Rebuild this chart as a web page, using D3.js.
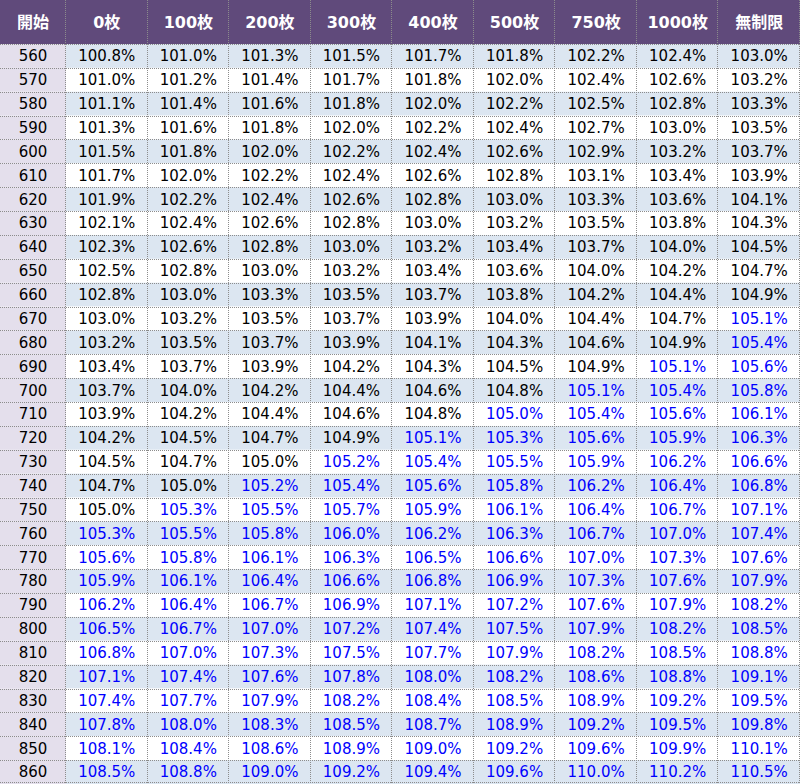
<!DOCTYPE html>
<html>
<head>
<meta charset="utf-8">
<script src="https://cdn.jsdelivr.net/npm/d3@7"></script>
<style>
  html, body { margin: 0; padding: 0; background: #fff; }
  svg { display: block; }
</style>
</head>
<body>
<div id="container"></div>
<script>
const width = 800;
const height = 784;
const headerHeight = 44;
const firstColWidth = 66;

// column headers
const cornerLabel = "開始";
const columns = ["0枚", "100枚", "200枚", "300枚", "400枚", "500枚", "750枚", "1000枚", "無制限"];

// row labels
const starts = [560, 570, 580, 590, 600, 610, 620, 630, 640, 650, 660, 670, 680, 690, 700, 710,
  720, 730, 740, 750, 760, 770, 780, 790, 800, 810, 820, 830, 840, 850, 860];

// payout rates (%), one array per row
const rates = [
  [100.8, 101.0, 101.3, 101.5, 101.7, 101.8, 102.2, 102.4, 103.0],
  [101.0, 101.2, 101.4, 101.7, 101.8, 102.0, 102.4, 102.6, 103.2],
  [101.1, 101.4, 101.6, 101.8, 102.0, 102.2, 102.5, 102.8, 103.3],
  [101.3, 101.6, 101.8, 102.0, 102.2, 102.4, 102.7, 103.0, 103.5],
  [101.5, 101.8, 102.0, 102.2, 102.4, 102.6, 102.9, 103.2, 103.7],
  [101.7, 102.0, 102.2, 102.4, 102.6, 102.8, 103.1, 103.4, 103.9],
  [101.9, 102.2, 102.4, 102.6, 102.8, 103.0, 103.3, 103.6, 104.1],
  [102.1, 102.4, 102.6, 102.8, 103.0, 103.2, 103.5, 103.8, 104.3],
  [102.3, 102.6, 102.8, 103.0, 103.2, 103.4, 103.7, 104.0, 104.5],
  [102.5, 102.8, 103.0, 103.2, 103.4, 103.6, 104.0, 104.2, 104.7],
  [102.8, 103.0, 103.3, 103.5, 103.7, 103.8, 104.2, 104.4, 104.9],
  [103.0, 103.2, 103.5, 103.7, 103.9, 104.0, 104.4, 104.7, 105.1],
  [103.2, 103.5, 103.7, 103.9, 104.1, 104.3, 104.6, 104.9, 105.4],
  [103.4, 103.7, 103.9, 104.2, 104.3, 104.5, 104.9, 105.1, 105.6],
  [103.7, 104.0, 104.2, 104.4, 104.6, 104.8, 105.1, 105.4, 105.8],
  [103.9, 104.2, 104.4, 104.6, 104.8, 105.0, 105.4, 105.6, 106.1],
  [104.2, 104.5, 104.7, 104.9, 105.1, 105.3, 105.6, 105.9, 106.3],
  [104.5, 104.7, 105.0, 105.2, 105.4, 105.5, 105.9, 106.2, 106.6],
  [104.7, 105.0, 105.2, 105.4, 105.6, 105.8, 106.2, 106.4, 106.8],
  [105.0, 105.3, 105.5, 105.7, 105.9, 106.1, 106.4, 106.7, 107.1],
  [105.3, 105.5, 105.8, 106.0, 106.2, 106.3, 106.7, 107.0, 107.4],
  [105.6, 105.8, 106.1, 106.3, 106.5, 106.6, 107.0, 107.3, 107.6],
  [105.9, 106.1, 106.4, 106.6, 106.8, 106.9, 107.3, 107.6, 107.9],
  [106.2, 106.4, 106.7, 106.9, 107.1, 107.2, 107.6, 107.9, 108.2],
  [106.5, 106.7, 107.0, 107.2, 107.4, 107.5, 107.9, 108.2, 108.5],
  [106.8, 107.0, 107.3, 107.5, 107.7, 107.9, 108.2, 108.5, 108.8],
  [107.1, 107.4, 107.6, 107.8, 108.0, 108.2, 108.6, 108.8, 109.1],
  [107.4, 107.7, 107.9, 108.2, 108.4, 108.5, 108.9, 109.2, 109.5],
  [107.8, 108.0, 108.3, 108.5, 108.7, 108.9, 109.2, 109.5, 109.8],
  [108.1, 108.4, 108.6, 108.9, 109.0, 109.2, 109.6, 109.9, 110.1],
  [108.5, 108.8, 109.0, 109.2, 109.4, 109.6, 110.0, 110.2, 110.5]
];

// start value from which each column is printed in blue
const blueFrom = [760, 750, 740, 730, 720, 710, 700, 690, 670];

const headerColor = "#604a7b";
const labelColor = "#e4dfec";
const stripeColor = "#dce6f1";
const borderColor = "#8c8c8c";
const fontFamily = "'DejaVu Sans', Verdana, 'Noto Sans CJK JP', sans-serif";

const x = d3.scaleBand()
  .domain(columns)
  .range([firstColWidth, width]);

const y = d3.scaleBand()
  .domain(starts)
  .range([headerHeight, height]);

const svg = d3.select("#container").append("svg")
  .attr("width", width)
  .attr("height", height)
  .attr("viewBox", [0, 0, width, height])
  .style("font-family", fontFamily);

// header
svg.append("rect")
  .attr("x", 0).attr("y", 0)
  .attr("width", width).attr("height", headerHeight)
  .attr("fill", headerColor);

svg.append("text")
  .attr("x", firstColWidth / 2)
  .attr("y", headerHeight / 2)
  .attr("dy", "0.36em")
  .attr("text-anchor", "middle")
  .attr("fill", "#fff")
  .attr("font-weight", "bold")
  .attr("font-size", 16)
  .text(cornerLabel);

svg.append("g")
  .selectAll("text")
  .data(columns)
  .join("text")
  .attr("x", d => x(d) + x.bandwidth() / 2)
  .attr("y", headerHeight / 2)
  .attr("dy", "0.36em")
  .attr("text-anchor", "middle")
  .attr("fill", "#fff")
  .attr("font-weight", "bold")
  .attr("font-size", 16)
  .text(d => d);

// body rows
const rows = svg.append("g")
  .selectAll("g")
  .data(starts.map((s, i) => ({start: s, i, values: rates[i]})))
  .join("g")
  .attr("transform", d => `translate(0,${y(d.start)})`);

rows.append("rect")
  .attr("x", 0)
  .attr("width", firstColWidth)
  .attr("height", y.bandwidth())
  .attr("fill", labelColor);

rows.append("rect")
  .attr("x", firstColWidth)
  .attr("width", width - firstColWidth)
  .attr("height", y.bandwidth())
  .attr("fill", d => d.i % 2 === 0 ? stripeColor : "#fff");

rows.append("text")
  .attr("x", firstColWidth / 2)
  .attr("y", y.bandwidth() / 2)
  .attr("dy", "0.36em")
  .attr("text-anchor", "middle")
  .attr("font-size", 15)
  .attr("fill", "#000")
  .text(d => d.start);

rows.selectAll("text.val")
  .data(d => d.values.map((v, j) => ({v, col: columns[j], blue: d.start >= blueFrom[j]})))
  .join("text")
  .attr("class", "val")
  .attr("x", d => x(d.col) + x.bandwidth() / 2)
  .attr("y", y.bandwidth() / 2)
  .attr("dy", "0.36em")
  .attr("text-anchor", "middle")
  .attr("font-size", 15)
  .attr("fill", d => d.blue ? "#0000ff" : "#000")
  .text(d => d.v.toFixed(1) + "%");

// dotted grid lines
const grid = svg.append("g")
  .attr("stroke", borderColor)
  .attr("stroke-width", 1)
  .attr("stroke-dasharray", "1,1")
  .attr("shape-rendering", "crispEdges");

grid.selectAll("line.h")
  .data(starts)
  .join("line")
  .attr("class", "h")
  .attr("x1", 0).attr("x2", width)
  .attr("y1", d => Math.round(y(d)) + 0.5)
  .attr("y2", d => Math.round(y(d)) + 0.5);

grid.append("line")
  .attr("x1", 0).attr("x2", width)
  .attr("y1", height - 1.5).attr("y2", height - 1.5);

grid.selectAll("line.v")
  .data(columns)
  .join("line")
  .attr("class", "v")
  .attr("x1", d => Math.round(x(d)) - 0.5)
  .attr("x2", d => Math.round(x(d)) - 0.5)
  .attr("y1", 0).attr("y2", height);

grid.append("line")
  .attr("x1", width - 0.5).attr("x2", width - 0.5)
  .attr("y1", 0).attr("y2", height);
</script>
</body>
</html>
